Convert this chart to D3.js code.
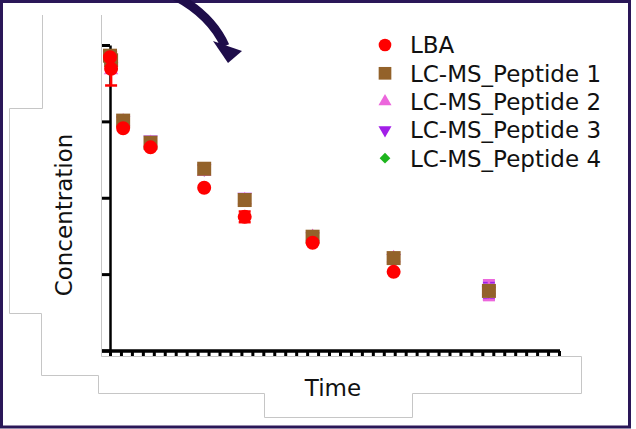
<!DOCTYPE html>
<html>
<head>
<meta charset="utf-8">
<script src="https://cdn.jsdelivr.net/npm/d3@7"></script>
<style>
  html, body { margin: 0; padding: 0; background: #fff; }
  svg { display: block; }
  text { font-family: "DejaVu Sans", Verdana, sans-serif; fill: #111; }
</style>
</head>
<body>
<div class="chart"></div>
<script>
// sampling times (x) and mean concentrations per assay
const timePoints = [0, 0.1, 1.2, 3.7, 8.6, 12.3, 18.5, 25.9, 34.6];
const lba      = [3.84, 3.69, 2.91, 2.66, 2.13, 1.75, 1.41, 1.03, null];
const lbaSd    = [0, 0.22, 0, 0, 0, 0.07, 0, 0, 0];
const peptide1 = [3.86, 3.80, 3.01, 2.72, 2.38, 1.97, 1.49, 1.21, 0.78];
const peptide2 = [3.84, 3.67, 3.00, 2.72, 2.34, 1.97, 1.49, 1.21, 0.79];
const peptide2Sd = [0, 0, 0, 0, 0, 0, 0, 0, 0.13];
const peptide3 = [3.86, 3.72, 3.01, 2.76, 2.38, 2.01, 1.49, 1.21, 0.78];
const peptide3Sd = [0, 0, 0, 0, 0, 0, 0, 0, 0.11];
const peptide4 = [3.86, 3.80, 3.00, 2.72, 2.37, 1.97, 1.49, 1.21, 0.78];
const seriesNames = ["LBA", "LC-MS_Peptide 1", "LC-MS_Peptide 2", "LC-MS_Peptide 3", "LC-MS_Peptide 4"];
const yTicks = [0, 1, 2, 3, 4];
const xTicks = d3.range(0, 42);

const width = 636, height = 429;

const series = [
    {name: seriesNames[0], values: lba, sd: lbaSd, color: "#ff0000", shape: "circle"},
    {name: seriesNames[1], values: peptide1, sd: null, color: "#93622a", shape: "square"},
    {name: seriesNames[2], values: peptide2, sd: peptide2Sd, color: "#ec66dc", shape: "up"},
    {name: seriesNames[3], values: peptide3, sd: peptide3Sd, color: "#a21ee8", shape: "down"},
    {name: seriesNames[4], values: peptide4, sd: null, color: "#1db51d", shape: "diamond"},
];

const svg = d3.select(".chart").append("svg")
    .attr("width", width)
    .attr("height", height);

const x = d3.scaleLinear().domain([0, 41]).range([110, 559]);
const y = d3.scaleLinear().domain([0, 4]).range([350.5, 45]);

// leftover grey layout outlines
const grey = svg.append("g")
    .attr("fill", "none")
    .attr("stroke", "#c6c6c6")
    .attr("stroke-width", 1);
grey.append("path")
    .attr("d", "M42.5,15V108.5H9.5V313.5H41.5V375.5H98.5V393.5H264.5V417.5H412.5V393.5H581.5V356.5H101.5V15");

// outer frame
svg.append("rect")
    .attr("x", 1.5).attr("y", 1.5)
    .attr("width", 628).attr("height", 425.5)
    .attr("fill", "none")
    .attr("stroke", "#2a1758")
    .attr("stroke-width", 3);

// curved arrow at top
svg.append("path")
    .attr("d", "M175,-4 Q211,15 225,46")
    .attr("fill", "none")
    .attr("stroke", "#1e0d4a")
    .attr("stroke-width", 9);
svg.append("path")
    .attr("d", "M213,41 L242,51 L228,63 Z")
    .attr("fill", "#1e0d4a");

// axes
const yAxis = svg.append("g")
    .attr("transform", "translate(110,0)")
    .call(d3.axisLeft(y).tickValues(yTicks).tickSize(8).tickSizeOuter(0).tickFormat(""));
yAxis.select(".domain").attr("stroke-width", 2.5);
yAxis.selectAll(".tick line").attr("stroke-width", 3);

const xAxis = svg.append("g")
    .attr("transform", "translate(0,351)")
    .call(d3.axisBottom(x).tickValues(xTicks).tickSize(5).tickSizeOuter(0).tickFormat(""));
xAxis.select(".domain").attr("d", "M102,0H560").attr("stroke-width", 3.3);
xAxis.selectAll(".tick line").attr("stroke-width", 3);

// axis titles
svg.append("text")
    .attr("transform", "translate(72,215) rotate(-90)")
    .attr("text-anchor", "middle")
    .style("font-size", "23px")
    .text("Concentration");
svg.append("text")
    .attr("x", 333).attr("y", 396)
    .attr("text-anchor", "middle")
    .style("font-size", "23px")
    .text("Time");

function symbolPath(shape, scale) {
    if (shape === "circle") return d3.symbol(d3.symbolCircle, 154 * scale)();
    if (shape === "square") return d3.symbol(d3.symbolSquare, 196 * scale)();
    if (shape === "diamond") return d3.symbol(d3.symbolDiamond2, 90 * scale)();
    return d3.symbol(d3.symbolTriangle, 90 * scale)();
}

function symbolTransform(shape, px, py) {
    return "translate(" + px + "," + py + ")" + (shape === "down" ? " rotate(180)" : "");
}

// error bars first, under all markers (peptide 3 below peptide 2)
const bars = svg.append("g").attr("class", "errorbars");
[3, 2, 0].forEach(function (k) {
    const s = series[k];
    timePoints.forEach(function (t, i) {
        if (s.values[i] == null || !s.sd[i]) return;
        const lo = y(s.values[i] - s.sd[i]);
        const hi = y(s.values[i] + s.sd[i]);
        const g = bars.append("g").attr("stroke", s.color).attr("stroke-width", 2.5);
        g.append("line").attr("x1", x(t)).attr("x2", x(t)).attr("y1", lo).attr("y2", hi);
        g.append("line").attr("x1", x(t) - 6).attr("x2", x(t) + 6).attr("y1", lo).attr("y2", lo);
        g.append("line").attr("x1", x(t) - 6).attr("x2", x(t) + 6).attr("y1", hi).attr("y2", hi);
    });
});

// markers: peptide 4 at the bottom, LBA on top
[4, 3, 2, 1, 0].forEach(function (k) {
    const s = series[k];
    svg.append("g")
        .selectAll("path")
        .data(timePoints.map(function (t, i) { return {t: t, v: s.values[i]}; })
              .filter(function (d) { return d.v != null; }))
        .enter().append("path")
        .attr("d", symbolPath(s.shape, 1))
        .attr("transform", function (d) { return symbolTransform(s.shape, x(d.t), y(d.v)); })
        .attr("fill", s.color);
});

// legend
const legend = svg.append("g").attr("class", "legend");
series.forEach(function (s, i) {
    const ly = 45 + i * 28.3;
    legend.append("path")
        .attr("d", symbolPath(s.shape, 0.82))
        .attr("transform", symbolTransform(s.shape, 385, ly))
        .attr("fill", s.color);
    legend.append("text")
        .attr("x", 410).attr("y", ly + 8.3)
        .style("font-size", "23px")
        .text(s.name);
});
</script>
</body>
</html>
